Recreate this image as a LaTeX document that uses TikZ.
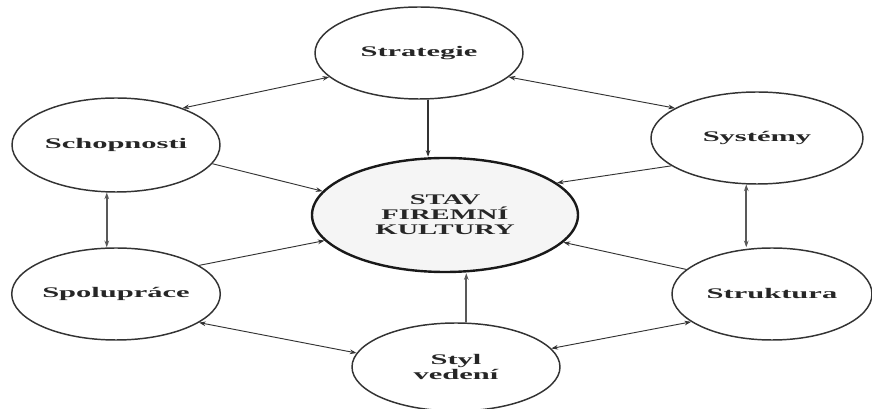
\documentclass[tikz,border=0pt]{standalone}
\usepackage{fontspec}
\setmainfont{Liberation Serif}
\newfontfamily\widefont[FakeStretch=1.95]{Liberation Serif}
\newfontfamily\widerfont[FakeStretch=2.08]{Liberation Serif}
\usetikzlibrary{arrows.meta,shapes.geometric}
\begin{document}
\begin{tikzpicture}[x=0.75pt,y=-0.75pt,
  oval/.style={ellipse,draw=black!80,line width=1.1pt,inner sep=0pt,
    font=\widerfont\bfseries\fontsize{11}{11.3}\selectfont,text=black!85,align=center},
  conn/.style={line width=0.7pt,draw=black!80,-{Stealth[length=5pt,width=3.5pt]}},
  biconn/.style={line width=0.7pt,draw=black!80,{Stealth[length=5pt,width=3.5pt]}-{Stealth[length=5pt,width=3.5pt]}},
  thickbi/.style={biconn,line width=1.2pt,draw=black!65}]
\useasboundingbox[fill=white] (0,0) rectangle (872,409);

\node[oval,minimum width=156pt,minimum height=69pt] (strat) at (419,53) {Strategie};
\node[oval,minimum width=199.5pt,minimum height=85.5pt,line width=1.8pt,draw=black!90,fill=black!4,
  font=\widefont\bfseries\fontsize{11}{11.3}\selectfont] (stav) at (445,215) {STAV\\FIREMNÍ\\KULTURY};
\node[oval,minimum width=156pt,minimum height=70.5pt] (schop) at (116,145) {Schopnosti};
\node[oval,minimum width=154.5pt,minimum height=69pt] (spol) at (116,294) {Spolupráce};
\node[oval,minimum width=159pt,minimum height=69pt] (sys) at (757,138) {Systémy};
\node[oval,minimum width=150pt,minimum height=69pt] (strukt) at (772,294) {Struktura};
\node[oval,minimum width=156pt,minimum height=66pt] (styl) at (456,367) {Styl\\vedení};

% outer ring
\draw[biconn] (strat.195) -- (schop.29);
\draw[biconn] (strat.345) -- (sys.160);
\draw[thickbi] (schop.259) -- (schop.259 |- spol.north);
\draw[thickbi] (sys.257) -- (sys.257 |- strukt.north);
\draw[biconn] (spol.341) -- (styl.172);
\draw[biconn] (styl.11) -- (strukt.199);

% into centre
\draw[conn,line width=1pt] (strat.281) -- (strat.281 |- stav.north);
\draw[conn] (schop.349) -- (stav.169);
\draw[conn] (spol.19) -- (stav.192);
\draw[conn] (sys.198) -- (stav.16);
\draw[conn] (strukt.164) -- (stav.347);
\draw[conn,line width=1.3pt,draw=black!65] (styl.77) -- (styl.77 |- stav.south);
\end{tikzpicture}
\end{document}
